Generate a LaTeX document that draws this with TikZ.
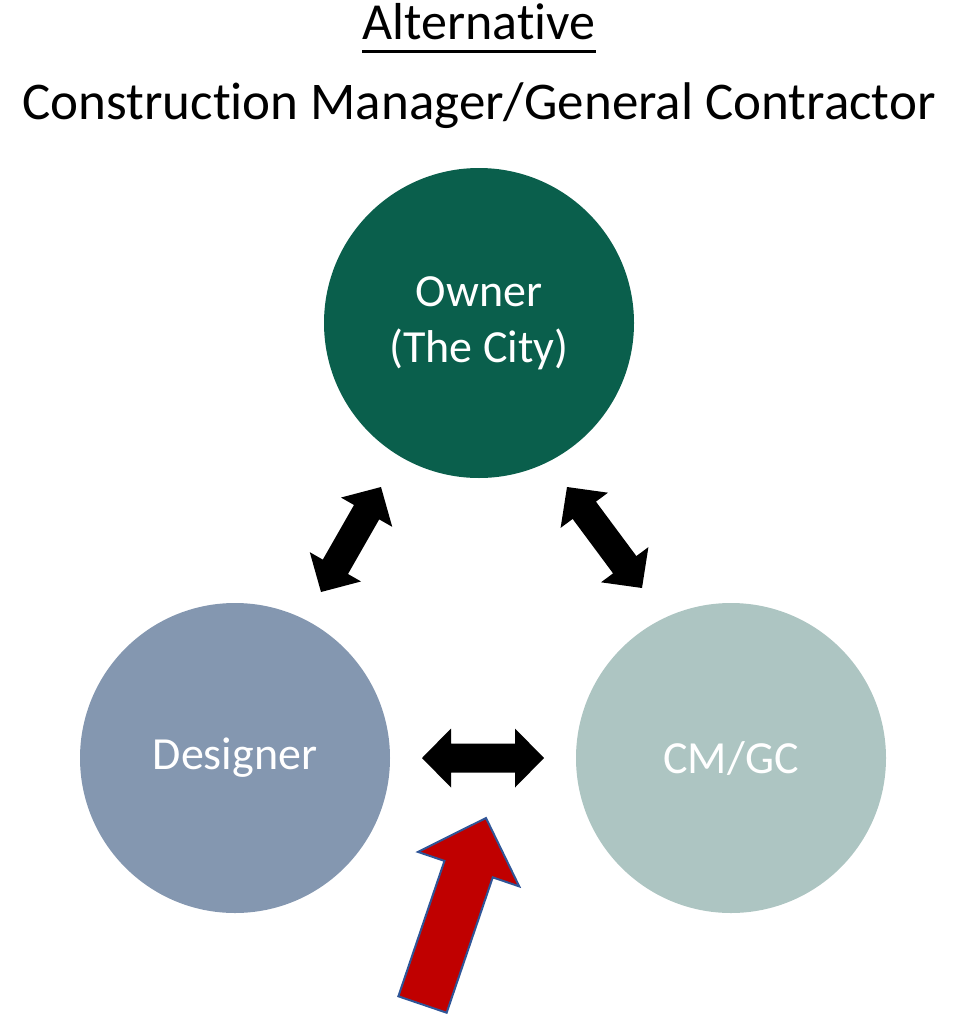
\documentclass[tikz,border=0pt]{standalone}
\usepackage{fontspec}
\setmainfont[Ligatures=NoCommon]{Carlito}
\usetikzlibrary{calc}

\definecolor{ownergreen}{HTML}{0A5F4C}
\definecolor{designerblue}{HTML}{8497B0}
\definecolor{cmgcgrey}{HTML}{ADC5C2}
\definecolor{pushred}{HTML}{C00000}
\definecolor{pushedge}{HTML}{2F5597}

% block arrow with a head at both ends
\newcommand{\twoway}[3][]{%
  \fill[#1] let \p1=(#2), \p2=(#3),
    \n1={atan2(\y2-\y1,\x2-\x1)}, \n2={veclen(\x2-\x1,\y2-\y1)} in
    [shift={(\p1)}, rotate=\n1]
    (0pt,0pt) -- (29pt,29.5pt) -- (29pt,14.5pt) -- ({\n2*1pt-29pt},14.5pt)
    -- ({\n2*1pt-29pt},29.5pt) -- ({\n2*1pt},0pt) -- ({\n2*1pt-29pt},-29.5pt)
    -- ({\n2*1pt-29pt},-14.5pt) -- (29pt,-14.5pt) -- (29pt,-29.5pt) -- cycle;}

% block arrow with one head
\newcommand{\oneway}[3][]{%
  \filldraw[#1] let \p1=(#2), \p2=(#3),
    \n1={atan2(\y2-\y1,\x2-\x1)}, \n2={veclen(\x2-\x1,\y2-\y1)} in
    [shift={(\p1)}, rotate=\n1]
    (0pt,25.5pt) -- ({\n2*1pt-54pt},25.5pt) -- ({\n2*1pt-54pt},53.5pt)
    -- ({\n2*1pt},0pt) -- ({\n2*1pt-54pt},-53.5pt) -- ({\n2*1pt-54pt},-25.5pt)
    -- (0pt,-25.5pt) -- cycle;}

\begin{document}
\begin{tikzpicture}[x=1pt, y=-1pt]
    \tikzstyle{party}=[circle, minimum size=310pt, inner sep=0pt,
                % The text:
                text=white, align=center,
                font=\fontsize{46}{56}\selectfont
                ]
    \tikzstyle{heading}=[anchor=base, inner sep=0pt]
    \useasboundingbox (0,0) rectangle (956,1014);

    \node[heading, font=\fontsize{52}{62}\selectfont] (alt) at (479,40) {Alternative};
    \draw[line width=3pt] ($(alt.base west)+(0,12)$) -- ($(alt.base east)+(0,12)$);
    \node[heading, font=\fontsize{53}{64}\selectfont] (method) at (479,120) {Construction Manager/General Contractor};

    \node[party, fill=ownergreen] (owner) at (479,323) {Owner\\(The City)};
    \node[party, fill=designerblue] (designer) at (235,758) {Designer};
    \node[party, fill=cmgcgrey] (cmgc) at (731,758) {CM/GC};

    \coordinate (designerT) at (321,592);
    \coordinate (ownerL) at (381,487);
    \coordinate (ownerR) at (567,487);
    \coordinate (cmgcT) at (642,588);
    \coordinate (designerR) at (422,758);
    \coordinate (cmgcL) at (544,758);
    \coordinate (pushtail) at (422.5,1004.5);
    \coordinate (pushtip) at (486,818);

    \twoway{designerT}{ownerL}
    \twoway{ownerR}{cmgcT}
    \twoway{designerR}{cmgcL}
    \oneway[fill=pushred, draw=pushedge, line width=2pt]{pushtail}{pushtip}
\end{tikzpicture}
\end{document}
